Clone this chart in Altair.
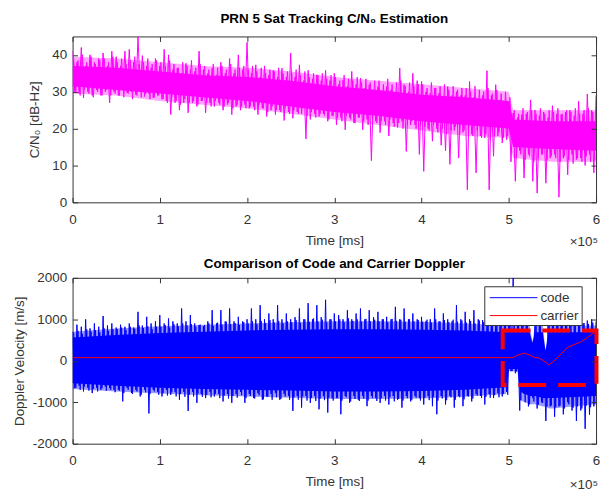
import altair as alt
import pandas as pd

FONT = "Liberation Sans"

# ---------------- data (time in units of 1e5 ms) ----------------
STEP = 0.05
x_ticks = [0, 1, 2, 3, 4, 5, 6]
cn0_ticks = [0, 10, 20, 30, 40]
dop_ticks = [-2000, -1000, 0, 1000, 2000]

# C/N0: outer spikes (upper / lower) per 0.05 bin
cn0_hi = [41, 38, 42, 37, 40, 38, 39, 40.5, 37, 41,
          39.5, 37, 41, 41.5, 38, 45, 39.8, 37, 36.5, 39,
          37, 41.5, 40, 36, 36.4, 35, 37.7, 36, 35.5, 41,
          36, 35, 36.4, 34.5, 38, 35, 39, 35, 40, 36,
          43.4, 35, 37.3, 34, 37, 34.5, 35.8, 34, 36.4, 34,
          40.5, 34, 37.3, 33, 35.8, 33.5, 34.6, 33, 35.8, 33,
          35, 32, 33.2, 31.5, 35.5, 32, 33.7, 31, 31.9, 30.5,
          31.4, 30, 31.4, 30.5, 30, 36.4, 31.9, 30, 35, 33,
          32.8, 30, 29.6, 31, 29.6, 28.5, 31.4, 29, 30, 29,
          29, 32.8, 28.5, 28, 29, 35.7, 29, 31.9, 27.8, 27,
          27, 24.2, 23, 23.8, 24, 27.8, 25, 23.5, 24.5, 23,
          26.2, 24, 23.8, 24.5, 25, 23.5, 27.4, 24, 29.4, 25,
          29]
cn0_lo = [30, 29.5, 28.3, 30, 29, 30.5, 29, 30, 27, 30,
          29, 30.5, 29.7, 30, 29.2, 30, 28.7, 29.5, 28.3, 29,
          28, 27.5, 23.8, 27, 25, 27, 24.3, 27, 26, 27.5,
          24.3, 27, 26, 27, 25, 26.5, 23.8, 26, 25, 26.5,
          25.5, 26, 23.8, 25.5, 23.3, 25, 23.8, 25, 22.2, 24.5,
          22.8, 24.5, 24, 17.2, 22.5, 24, 23.3, 24, 22, 23.5,
          21, 23, 19.7, 23, 21.5, 23, 19.7, 22.5, 11.3, 22,
          18.9, 22, 18, 21.5, 20.3, 22, 13.8, 21, 21, 13,
          8.4, 20, 16.6, 20, 15.5, 14, 10.3, 19.5, 12, 19,
          3.4, 18.5, 8, 18, 17.5, 3.4, 12.5, 18, 16.1, 17,
          11, 5.7, 14, 6.6, 13, 5.7, 2.5, 13, 5.2, 12,
          13, 1.4, 12, 7.5, 13, 11.6, 12, 10, 13, 8]
# C/N0: in-between strokes (upper / lower) per 0.05 bin
cn0_mid_hi = [39, 38.5, 40, 38, 39.5, 37.5, 38.5, 39, 38, 39.5,
              38, 39, 37.5, 38.5, 39.5, 37.5, 38, 39, 37.5, 38.5,
              38, 37, 38.5, 37.5, 36.5, 38, 37, 38.5, 36.5, 37.5,
              37, 36, 37.5, 36.5, 37, 36, 37.5, 36, 36.5, 37,
              36, 37, 35.5, 36.5, 35, 36, 35.5, 36.5, 35, 35.5,
              35, 36, 34.5, 35.5, 34, 35, 34.5, 35, 33.5, 34.5,
              34, 33, 34.5, 33.5, 33, 34, 32.5, 33.5, 32.5, 33,
              33, 32, 33.5, 32, 32.5, 33, 31.5, 32.5, 31.5, 32,
              32, 31, 32.5, 31, 31.5, 32, 30.5, 31.5, 30.5, 31,
              31, 30, 31.5, 30.5, 30, 31, 29.5, 30.5, 29.5, 30,
              28.5, 25, 24, 25.5, 24.5, 25, 24, 25.5, 24, 25,
              24.5, 25.5, 24, 25, 24.5, 25.5, 24, 25, 25.5, 24.5]
cn0_mid_lo = [30, 29, 30.5, 29.5, 28.5, 30, 29, 30.5, 29, 29.5,
              29, 28.5, 29.5, 28, 29, 28.5, 29.5, 28, 28.5, 29,
              28, 27, 28.5, 27.5, 26.5, 28, 27, 27.5, 26.5, 27.5,
              27, 26, 27.5, 26.5, 26, 27, 25.5, 26.5, 26, 25.5,
              26, 25, 26.5, 25.5, 24.5, 26, 25, 24.5, 25.5, 24,
              25, 24, 25.5, 23.5, 24.5, 23, 24, 23.5, 22.5, 23.5,
              23, 22, 23.5, 22.5, 21.5, 23, 22, 21, 22.5, 21.5,
              22, 21, 22.5, 20.5, 21.5, 20, 21, 22, 20, 21,
              20.5, 19.5, 21, 19, 20, 18.5, 19.5, 20.5, 18.5, 19.5,
              19, 18, 19.5, 17.5, 18.5, 17, 18, 19, 17.5, 18,
              17, 12, 13, 11.5, 12.5, 11, 12, 13, 11.5, 12.5,
              12, 11, 12.5, 11.5, 10.5, 12, 11, 12.5, 11, 11.5]
# dense core and lighter fringe of the C/N0 trace
cn0_core_t = [0, 0.5, 1.0, 1.5, 2.0, 2.5, 3.0, 3.5, 4.0, 4.5, 5.0, 5.05, 5.5, 6.0]
cn0_core_hi = [37, 36.5, 35.5, 34.5, 34, 33, 31.5, 30.5, 29.2, 28.5, 27.5, 22.5, 22, 22]
cn0_core_lo = [31.5, 30.5, 29.5, 28.5, 27.5, 26, 24.5, 23.5, 22, 21, 20, 15, 14.5, 14]
cn0_fringe_hi = [39.5, 39, 38, 37, 36.5, 35.5, 34, 33, 32, 31, 30, 25, 25, 25]
cn0_fringe_lo = [29.5, 29, 27.5, 26.5, 25.5, 24, 22.5, 21, 19.5, 18, 17.5, 12, 11, 11]

# code Doppler: outer spikes (upper / lower) per 0.05 bin
code_hi = [700, 870, 820, 1000, 780, 900, 820, 1080, 850, 900,
           800, 870, 820, 900, 800, 1180, 850, 1060, 900, 950,
           1100, 900, 1020, 950, 900, 1260, 950, 1100, 900, 860,
           830, 950, 1220, 900, 1220, 950, 1260, 950, 1060, 950,
           1000, 1260, 1000, 1340, 1000, 1140, 1000, 1340, 1000, 1140,
           1000, 1050, 1260, 1000, 1390, 1000, 1340, 1050, 1470, 1000,
           1140, 1100, 1000, 1220, 1000, 1140, 1260, 1000, 1220, 1050,
           1180, 1000, 1060, 1000, 1300, 1000, 1260, 1000, 1140, 1000,
           1060, 950, 1000, 1260, 950, 1140, 1000, 950, 1340, 1000,
           1180, 1000, 1220, 1000, 980, 950, 1000, 950, 1000, 950,
           950, 2000, 900, 950, 900, 430, 900, 950, 240, 900,
           950, 900, 950, 900, 950, 900, 950, 900, 970, 1000,
           950]
code_lo = [-660, -600, -740, -650, -780, -650, -700, -620, -660, -700,
           -700, -980, -650, -780, -700, -860, -700, -1270, -700, -750,
           -860, -700, -820, -750, -940, -750, -1210, -750, -1015, -800,
           -900, -750, -860, -800, -980, -800, -1015, -800, -750, -1015,
           -800, -900, -780, -940, -860, -800, -780, -940, -800, -850,
           -1210, -850, -1130, -850, -1015, -850, -1170, -850, -1250, -900,
           -900, -1290, -850, -1015, -850, -940, -850, -1095, -850, -900,
           -1015, -850, -1055, -850, -940, -1130, -850, -980, -850, -900,
           -1055, -850, -1095, -1290, -850, -1055, -850, -1130, -850, -1095,
           -850, -980, -800, -850, -1055, -800, -900, -780, -860, -750,
           -250, -300, -1200, -800, -1100, -900, -1150, -1000, -1450, -1100,
           -1350, -1100, -1290, -1000, -1200, -1450, -1200, -1640, -1300, -1100]
# code Doppler: in-between strokes (upper / lower) per 0.05 bin
code_mid_hi = [680, 720, 650, 760, 700, 740, 680, 780, 720, 760,
               760, 800, 740, 820, 770, 850, 790, 830, 760, 820,
               820, 860, 800, 880, 830, 900, 850, 880, 820, 870,
               860, 900, 840, 920, 870, 940, 880, 910, 860, 930,
               900, 950, 880, 960, 910, 980, 920, 960, 900, 950,
               930, 980, 910, 1000, 940, 1020, 950, 990, 930, 1000,
               950, 1000, 930, 1020, 960, 1000, 940, 1010, 950, 990,
               950, 1000, 930, 1010, 960, 990, 940, 1000, 950, 980,
               940, 990, 920, 1000, 950, 980, 930, 990, 940, 970,
               920, 960, 900, 970, 930, 950, 900, 960, 910, 940,
               880, 900, 860, 900, 880, 450, 870, 890, 260, 880,
               880, 900, 860, 910, 880, 900, 870, 910, 890, 920]
code_mid_lo = [-650, -700, -620, -720, -680, -740, -660, -720, -700, -760,
               -720, -780, -700, -800, -740, -820, -760, -800, -740, -820,
               -780, -840, -760, -860, -800, -870, -820, -860, -790, -870,
               -820, -880, -800, -900, -840, -910, -850, -890, -830, -900,
               -850, -910, -830, -930, -870, -940, -880, -920, -860, -940,
               -880, -940, -860, -960, -900, -970, -910, -950, -890, -960,
               -900, -960, -880, -980, -920, -970, -910, -960, -900, -970,
               -900, -960, -880, -980, -920, -960, -900, -950, -890, -960,
               -890, -950, -870, -960, -910, -950, -880, -940, -880, -930,
               -860, -910, -840, -900, -870, -890, -830, -880, -800, -820,
               -250, -260, -950, -1000, -1050, -980, -1060, -1020, -1100, -1080,
               -1120, -1080, -1150, -1050, -1130, -1100, -1150, -1080, -1120, -1050]
code_core_t = [0, 0.5, 1.0, 1.5, 2.0, 2.5, 3.0, 3.5, 4.0, 4.5, 4.97, 5.0, 5.1,
               5.13, 5.24, 5.27, 5.3, 5.39, 5.42, 5.46, 5.5, 6.0]
code_core_hi = [560, 620, 670, 700, 730, 750, 760, 760, 750, 730, 690, 690, 690,
                690, 690, 430, 690, 690, 240, 690, 690, 690]
code_core_lo = [-540, -600, -650, -680, -700, -720, -740, -740, -730, -700, -640, -200, -200,
                -750, -850, -850, -850, -900, -900, -900, -900, -850]
code_fringe_hi = [700, 780, 830, 870, 900, 930, 950, 950, 940, 900, 850, 850, 850,
                  850, 850, 450, 850, 850, 260, 850, 850, 850]
code_fringe_lo = [-680, -740, -790, -830, -860, -890, -920, -920, -910, -870, -800, -250, -250,
                  -950, -1050, -1050, -1050, -1100, -1100, -1150, -1150, -1050]

carrier_t = [0, 1, 2, 3, 4, 5.05, 5.12, 5.18, 5.24, 5.29, 5.34, 5.4, 5.46, 5.52,
             5.58, 5.67, 5.76, 5.82, 5.9, 6.0]
carrier_v = [75, 75, 75, 75, 75, 75, 150, 180, 140, 80, 70, 0, -100, 0,
             125, 320, 400, 445, 560, 720]

# highlighted region (red dashed box)
box_t = [4.93, 6.005]
box_v = [730, -587]

series_names = ["code", "carrier"]
series_colors = ["#0000FF", "#FF0000"]


def zigzag(hi, lo, name, shift=0.0):
    rows = [{"t": round(i * STEP + shift, 5), "v": v, "series": name} for i, v in enumerate(hi)]
    rows += [{"t": round(i * STEP + STEP / 2 + shift, 5), "v": v, "series": name} for i, v in enumerate(lo)]
    return pd.DataFrame(rows).sort_values("t").reset_index(drop=True)


cn0_df = zigzag(cn0_hi, cn0_lo, "cn0")
cn0_mid = zigzag(cn0_mid_hi, cn0_mid_lo, "cn0", STEP / 4)
cn0_band = pd.DataFrame({"t": cn0_core_t, "hi": cn0_core_hi, "lo": cn0_core_lo,
                         "fhi": cn0_fringe_hi, "flo": cn0_fringe_lo})
code_df = zigzag(code_hi, code_lo, "code")
code_mid = zigzag(code_mid_hi, code_mid_lo, "code", STEP / 4)
code_band = pd.DataFrame({"t": code_core_t, "hi": code_core_hi, "lo": code_core_lo,
                          "fhi": code_fringe_hi, "flo": code_fringe_lo})
carrier_df = pd.DataFrame({"t": carrier_t, "v": carrier_v, "series": "carrier"})
box_df = pd.DataFrame({"t0": [box_t[0]], "t1": [box_t[1]], "v0": [box_v[0]], "v1": [box_v[1]]})

W, H1, H2 = 527, 167, 167
XS = alt.Scale(domain=[0, 6], nice=False, zero=False)
YS1 = alt.Scale(domain=[0, 45], nice=False, zero=False)
YS2 = alt.Scale(domain=[-2000, 2000], nice=False, zero=False)
CS = alt.Scale(domain=series_names, range=series_colors)


def x_axis(title):
    return alt.Axis(orient="bottom", values=x_ticks, offset=-5, tickSize=5, domain=False,
                    grid=False, labelPadding=10, labelFlush=False, labelOverlap=False,
                    title=title, titlePadding=7.5, labelExpr="toString(datum.value)", zindex=1)


def y_axis(vals, title, tpad):
    return alt.Axis(orient="left", values=vals, offset=-5, tickSize=5, domain=False,
                    grid=False, labelPadding=6, labelFlush=False, labelOverlap=False,
                    title=title, titlePadding=tpad, labelExpr="toString(datum.value)", zindex=1)


def frame_ticks(df, ys, yvals):
    # invisible layer carrying the inward ticks of the top and right edges
    return alt.Chart(df).mark_point(opacity=0).encode(
        x=alt.X("t:Q", scale=XS, axis=alt.Axis(orient="top", values=x_ticks, offset=-5, tickSize=5,
                                                domain=False, labels=False, grid=False, title=None, zindex=1)),
        y=alt.Y("hi:Q", scale=ys, axis=alt.Axis(orient="right", values=yvals, offset=-5, tickSize=5,
                                               domain=False, labels=False, grid=False, title=None, zindex=1)),
    )


def exp_label(h, dy):
    return alt.Chart(pd.DataFrame({"s": ["×10⁵"]})).mark_text(
        align="right", baseline="alphabetic", font=FONT, fontSize=13.5, color="#333333"
    ).encode(x=alt.value(W + 2), y=alt.value(h + dy), text="s:N")


def bands(df, col, op, ys, yaxis):
    fringe = alt.Chart(df).mark_area(color=col, opacity=op, clip=True).encode(
        x=alt.X("t:Q", scale=XS, axis=x_axis("Time [ms]")),
        y=alt.Y("fhi:Q", scale=ys, axis=yaxis),
        y2="flo:Q",
    )
    core = alt.Chart(df).mark_area(color=col, clip=True).encode(
        x=alt.X("t:Q", scale=XS, axis=None),
        y=alt.Y("hi:Q", scale=ys, axis=None),
        y2="lo:Q",
    )
    return fringe, core


def trace(df, ys, op=1.0, col=None):
    kw = {"color": col} if col else {}
    enc = {} if col else {"color": alt.Color("series:N", scale=CS, legend=None)}
    return alt.Chart(df).mark_line(strokeWidth=1, opacity=op, clip=True, **kw).encode(
        x=alt.X("t:Q", scale=XS, axis=None),
        y=alt.Y("v:Q", scale=ys, axis=None),
        **enc,
    )


# ---------------- top panel ----------------
top_fringe, top_core = bands(cn0_band, "#FF00FF", 0.35, YS1, y_axis(cn0_ticks, "C/N₀ [dB-Hz]", 10))
top = alt.layer(top_fringe, trace(cn0_mid, YS1, 0.9, "#FF00FF"), trace(cn0_df, YS1, 1.0, "#FF00FF"), top_core,
                frame_ticks(cn0_band, YS1, cn0_ticks), exp_label(H1, 44)).resolve_axis(
    x="independent", y="independent"
).properties(
    width=W, height=H1,
    title=alt.TitleParams("PRN 5 Sat Tracking C/N₀ Estimation", offset=11),
)

# ---------------- bottom panel ----------------
bot_fringe, bot_core = bands(code_band, "#0000FF", 0.4, YS2, y_axis(dop_ticks, "Doppler Velocity [m/s]", 6))
bot_box = alt.Chart(box_df).mark_rect(
    filled=False, stroke="#FF0000", strokeWidth=4, strokeDash=[28, 12], clip=False
).encode(
    x=alt.X("t0:Q", scale=XS, axis=None), x2="t1:Q",
    y=alt.Y("v0:Q", scale=YS2, axis=None), y2="v1:Q",
)

# legend (MATLAB style box in the upper right of the plot)
LEG_X, LEG_Y, LEG_W, LEG_H, ROW = 415, 9, 98, 39, 18
legend_layers = [
    alt.Chart(pd.DataFrame({"k": [0]})).mark_rect(fill="white", stroke="#333333", strokeWidth=1).encode(
        x=alt.value(LEG_X), x2=alt.value(LEG_X + LEG_W), y=alt.value(LEG_Y), y2=alt.value(LEG_Y + LEG_H)
    )
]
for i, (name, col) in enumerate(zip(series_names, series_colors)):
    yy = LEG_Y + 11 + ROW * i
    legend_layers.append(
        alt.Chart(pd.DataFrame({"s": [name]})).mark_rule(color=col, strokeWidth=1).encode(
            x=alt.value(LEG_X + 5), x2=alt.value(LEG_X + 53), y=alt.value(yy)
        )
    )
    legend_layers.append(
        alt.Chart(pd.DataFrame({"s": [name]})).mark_text(
            align="left", baseline="middle", font=FONT, fontSize=13.5, color="#333333"
        ).encode(x=alt.value(LEG_X + 56), y=alt.value(yy), text="s:N")
    )

bottom = alt.layer(bot_fringe, trace(code_mid, YS2, 0.9), trace(code_df, YS2), bot_core,
                   trace(carrier_df, YS2), bot_box, frame_ticks(code_band, YS2, dop_ticks),
                   exp_label(H2, 46), *legend_layers).resolve_axis(
    x="independent", y="independent"
).properties(
    width=W, height=H2,
    title=alt.TitleParams("Comparison of Code and Carrier Doppler", offset=0),
)

chart = alt.vconcat(top, bottom, spacing=8).properties(
    padding={"left": 3, "top": 1, "right": 2, "bottom": 0},
    background="white",
).configure_view(
    stroke="#333333", strokeWidth=1
).configure_axis(
    labelFont=FONT, labelFontSize=13.5, labelColor="#333333",
    titleFont=FONT, titleFontSize=13.5, titleFontWeight="normal", titleColor="#333333",
    tickColor="#333333", tickWidth=1,
).configure_title(
    font=FONT, fontSize=13.5, fontWeight="bold", color="#000000", anchor="middle",
)

chart.save("out.html", embed_options={"renderer": "svg", "actions": False})
